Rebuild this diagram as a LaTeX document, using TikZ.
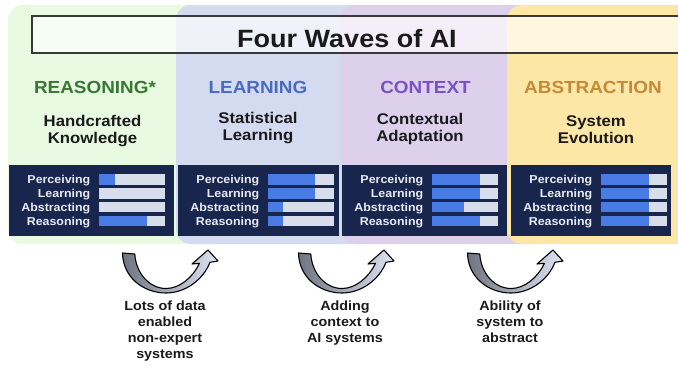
\documentclass[tikz,border=0pt]{standalone}
\usepackage{fontspec}
\setmainfont{Liberation Sans}
\usepackage{graphicx}
\newcommand{\wx}[1]{\scalebox{1.08}[1]{#1}}
\definecolor{pgreen}{RGB}{232,250,226}
\definecolor{pblue}{RGB}{212,219,240}
\definecolor{ppurple}{RGB}{221,208,237}
\definecolor{pyellow}{RGB}{253,231,166}
\definecolor{navy}{RGB}{24,38,78}
\definecolor{bartrack}{RGB}{216,221,235}
\definecolor{barfill}{RGB}{72,124,228}
\definecolor{hgreen}{RGB}{58,120,50}
\definecolor{hblue}{RGB}{74,108,192}
\definecolor{hpurple}{RGB}{122,80,196}
\definecolor{horange}{RGB}{196,138,58}
\definecolor{labtxt}{RGB}{232,234,242}
\definecolor{txtdark}{RGB}{26,26,26}
\definecolor{arrdark}{RGB}{112,117,128}
\definecolor{arrmid}{RGB}{165,172,186}
\definecolor{arrlight}{RGB}{222,228,242}
\tikzset{
  panel/.style={rounded corners=15pt},
  navybox/.style={fill=navy, draw=none, inner sep=0pt, minimum height=71pt, anchor=north west},
  barlabel/.style={font=\bfseries\fontsize{11.5}{12}\selectfont, text=labtxt, inner sep=0pt, anchor=base east},
  header/.style={font=\bfseries\fontsize{17.5}{20}\selectfont, inner sep=0pt, anchor=base},
  subtitle/.style={font=\bfseries\fontsize{15.5}{17}\selectfont, text=txtdark, inner sep=0pt, anchor=north, align=center},
  arrlabel/.style={font=\bfseries\fontsize{13.3}{16}\selectfont, text=txtdark, inner sep=0pt, anchor=north, align=center},
  arrowstyle/.style={draw=black, line width=1.1pt, line join=round, left color=arrdark, middle color=arrmid, right color=arrlight},
  uarrow/.pic={
    \path[arrowstyle] (0.5,3) .. controls (1,28) and (22,43) .. (44,43)
      .. controls (63,43) and (81,30) .. (88,12.3) -- (96,11) -- (86,0) -- (70,14) -- (77.5,13.3)
      .. controls (71,27) and (58,38.5) .. (44,38.5)
      .. controls (28,38.5) and (14,24) .. (12.8,4) -- cycle;
  }
}
\begin{document}
\begin{tikzpicture}[x=1pt,y=-1pt]
\useasboundingbox (0,0) rectangle (678,370);
\fill[white] (0,0) rectangle (678,370);
\begin{scope}
\clip (0,0) rectangle (678,370);
% wave panels
\fill[pgreen, panel] (8,5) rectangle (230,244);
\fill[pblue, panel] (176,5) rectangle (380,244);
\fill[ppurple, panel] (341,5) rectangle (540,244);
\fill[pyellow, panel] (507,5) rectangle (720,244);
% title frame
\draw[draw=black!78, line width=2pt, fill=white, fill opacity=0.65] (32,16) rectangle (700,53);
\end{scope}
\node[font=\bfseries\fontsize{25}{28}\selectfont, text=txtdark, inner sep=0pt, anchor=base] (title) at (347,47.3) {\wx{Four Waves of AI}};
% headers
\node[header, text=hgreen] (h1) at (95,93) {\wx{REASONING*}};
\node[header, text=hblue] (h2) at (258,93) {\wx{LEARNING}};
\node[header, text=hpurple] (h3) at (425.5,93) {\wx{CONTEXT}};
\node[header, text=horange] (h4) at (593,93) {\wx{ABSTRACTION}};
% subtitles
\node[subtitle] (s1) at (92.5,115) {\wx{Handcrafted}\\\wx{Knowledge}};
\node[subtitle] (s2) at (258,112) {\wx{Statistical}\\\wx{Learning}};
\node[subtitle] (s3) at (420,113) {\wx{Contextual}\\\wx{Adaptation}};
\node[subtitle] (s4) at (596,115) {\wx{System}\\\wx{Evolution}};
% capability boxes
\foreach \bx/\bw/\fa/\fb/\fc/\fd [count=\i] in {9/165/0.24/0/0/0.72, 178/161/0.71/0.71/0.23/0.23, 342/165/0.72/0.72/0.48/0.72, 511/160/0.72/0.72/0.72/0.72} {
  \node[navybox, minimum width=\bw pt] (box\i) at (\bx,165) {};
  \foreach \lab/\f [count=\j] in {Perceiving/\fa, Learning/\fb, Abstracting/\fc, Reasoning/\fd} {
    \pgfmathsetmacro\yc{165+14.5+(\j-1)*13.8}
    \fill[bartrack] (\bx+90,\yc-5.2) rectangle (\bx+156,\yc+5.2);
    \fill[barfill] (\bx+90,\yc-5.2) rectangle (\bx+90+66*\f,\yc+5.2);
    \node[barlabel] (lab\i\j) at (\bx+81.5,\yc+4.1) {\wx{\lab}};
  }
}
% transition arrows
\pic (a1) at (122,250) {uarrow};
\pic (a2) at (298,250) {uarrow};
\pic (a3) at (467,250) {uarrow};
% arrow labels
\node[arrlabel] (t1) at (165,300.5) {\wx{Lots of data}\\\wx{enabled}\\\wx{non-expert}\\\wx{systems}};
\node[arrlabel] (t2) at (345,300.5) {\wx{Adding}\\\wx{context to}\\\wx{AI systems}};
\node[arrlabel] (t3) at (510,300.5) {\wx{Ability of}\\\wx{system to}\\\wx{abstract}};
\end{tikzpicture}
\end{document}
